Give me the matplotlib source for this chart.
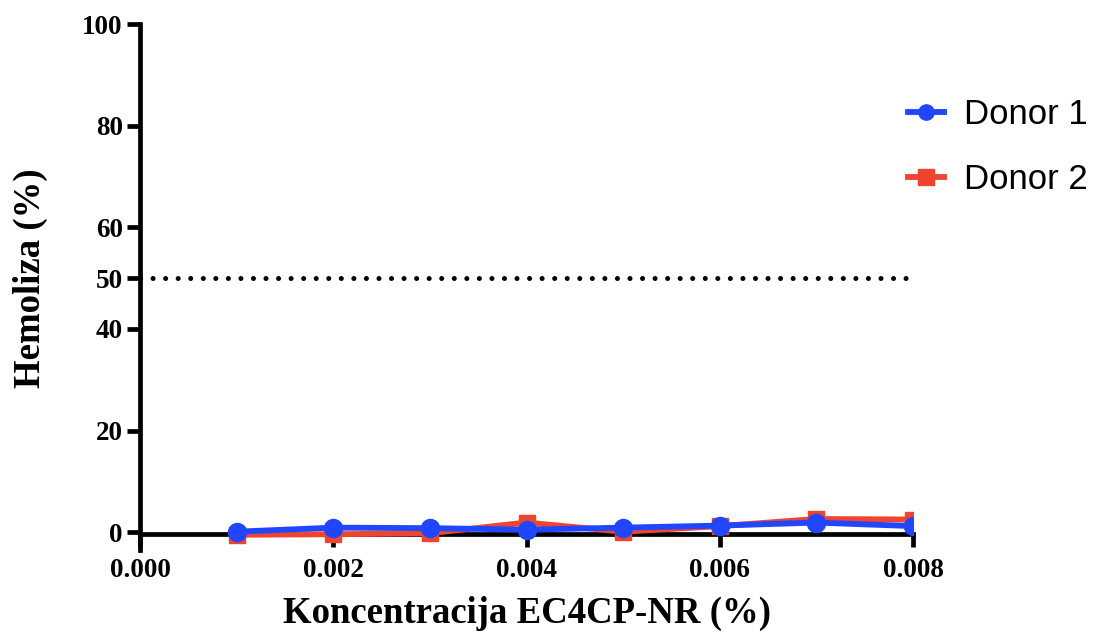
import matplotlib
matplotlib.use("Agg")
import matplotlib.pyplot as plt

# Hemolysis of erythrocytes vs. EC4CP-NR concentration
koncentracija = [0.001, 0.002, 0.003, 0.004, 0.005, 0.006, 0.007, 0.008]
donor1 = [0.1, 0.9, 0.8, 0.5, 0.9, 1.3, 1.9, 1.2]
donor2 = [-0.5, -0.4, -0.2, 1.9, 0.1, 1.2, 2.6, 2.5]
prag = 50
x_ticks = [0.000, 0.002, 0.004, 0.006, 0.008]
y_ticks = [0, 20, 40, 50, 60, 80, 100]

W, H = 1103, 635
fig = plt.figure(figsize=(W / 100, H / 100), dpi=100)
left, right = 140, 913
top, bottom = 24, 550
ax = fig.add_axes([left / W, 1 - bottom / H, (right - left) / W, (bottom - top) / H])

serif = ["Liberation Serif", "DejaVu Serif"]
sans = ["Liberation Sans", "DejaVu Sans"]

blue = "#2046FF"
red = "#EE4430"

ax.plot(koncentracija, donor2, color=red, lw=4.2, marker="s", ms=12,
        label="Donor 2", zorder=3)
ax.plot(koncentracija, donor1, color=blue, lw=4.2, marker="o", ms=13,
        label="Donor 1", zorder=4)
ax.plot([0.0, 0.00796], [prag, prag], color="black", lw=3.6,
        linestyle=(0, (0.01, 2.5)), dash_capstyle="round", zorder=2)

ax.set_xlim(0, 0.008)
ax.set_ylim(-3.5, 100)
ax.spines["top"].set_visible(False)
ax.spines["right"].set_visible(False)
ax.spines["bottom"].set_position(("data", -0.3))
for s in ("left", "bottom"):
    ax.spines[s].set_linewidth(3.4)

ax.set_xticks(x_ticks)
ax.set_xticklabels([f"{v:.3f}" for v in x_ticks])
ax.set_yticks(y_ticks)
ax.set_yticklabels([str(v) for v in y_ticks])
ax.tick_params(axis="both", width=3.4, length=9.5, direction="out")
ax.tick_params(axis="x", pad=8)
ax.tick_params(axis="y", pad=3)
for lab in ax.get_xticklabels() + ax.get_yticklabels():
    lab.set_family(serif)
    lab.set_fontweight("bold")
    lab.set_fontsize(19.5)

ax.set_xlabel("Koncentracija EC4CP-NR (%)", family=serif, fontweight="bold",
              fontsize=26.5, labelpad=9.5)
ax.set_ylabel("Hemoliza (%)", family=serif, fontweight="bold", fontsize=26.5)
ax.yaxis.set_label_coords((48 - left) / (right - left), (bottom - 278) / (bottom - top))

h, l = ax.get_legend_handles_labels()
leg = fig.legend(h[::-1], l[::-1], loc="upper left",
                 bbox_to_anchor=(908 / W, 1 - 98 / H), frameon=False,
                 borderpad=0, borderaxespad=0,
                 prop={"family": sans, "size": 25}, handlelength=1.05,
                 labelspacing=0.92, handletextpad=0.55)
for line in leg.get_lines():
    line.set_markersize(11)

fig.savefig("out.png", dpi=100)
